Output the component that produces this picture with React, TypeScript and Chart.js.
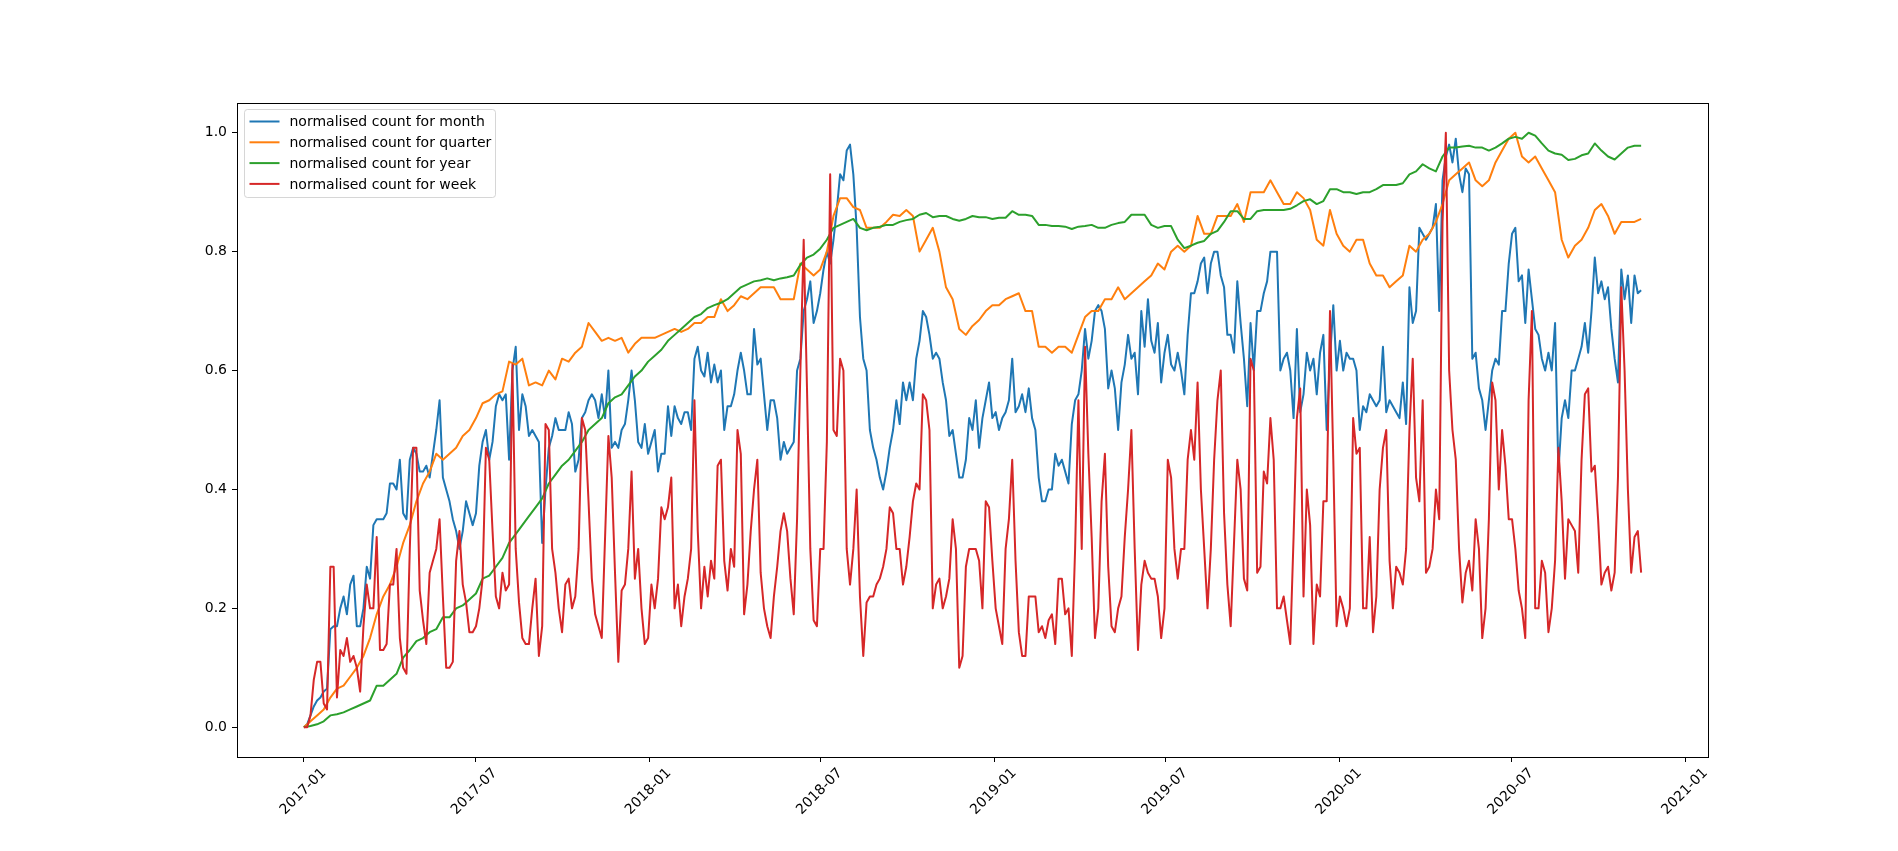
import { useEffect, useRef } from "react";
import { Chart, registerables } from "chart.js";

Chart.register(...registerables);

// x axis is days since 2017-01-01
const xTickDays = [0, 181, 365, 546, 730, 911, 1095, 1277, 1461];
const xTickLabels = [
  "2017-01", "2017-07", "2018-01", "2018-07", "2019-01",
  "2019-07", "2020-01", "2020-07", "2021-01"
];
const yTicks = [0, 0.2, 0.4, 0.6, 0.8, 1.0];

// month / week: read every 7 days (day 0, 7, ...) plus the half-way days (3.5, 10.5, ...)
// quarter / year: read every 14 days (day 0, 14, ...) plus the half-way days (7, 21, ...)
const weeklyStep = 7;
const biweeklyStep = 14;

const monthCounts = [
  0, 0.02, 0.045, 0.06, 0.165, 0.17, 0.22, 0.24, 0.17, 0.2,
  0.25, 0.35, 0.35, 0.41, 0.4, 0.36, 0.45, 0.46, 0.43, 0.42,
  0.5, 0.42, 0.38, 0.33, 0.33, 0.36, 0.36, 0.48, 0.45, 0.54,
  0.55, 0.45, 0.64, 0.56, 0.49,
  0.49, 0.31, 0.47, 0.52, 0.5, 0.53, 0.43, 0.52, 0.55, 0.55,
  0.56, 0.6, 0.48, 0.5, 0.55, 0.55, 0.47, 0.46, 0.5, 0.46,
  0.54, 0.54, 0.51, 0.53, 0.62, 0.6, 0.63, 0.61, 0.6, 0.54,
  0.56, 0.63, 0.56, 0.67,
  0.62, 0.5, 0.55, 0.45, 0.46, 0.48, 0.62, 0.72, 0.68, 0.73,
  0.8, 0.82, 0.93, 0.97, 0.93, 0.69, 0.6, 0.47, 0.42, 0.43,
  0.5, 0.51, 0.55, 0.55, 0.65, 0.69, 0.62, 0.62, 0.55, 0.5,
  0.42, 0.45, 0.5, 0.47, 0.55,
  0.52, 0.5, 0.53, 0.62, 0.54, 0.53, 0.52, 0.42, 0.38, 0.4,
  0.44, 0.43, 0.51, 0.56, 0.67, 0.65, 0.71, 0.67, 0.6, 0.5,
  0.61, 0.62, 0.56, 0.64, 0.65, 0.68, 0.63, 0.61, 0.63, 0.56,
  0.73, 0.75, 0.79, 0.78, 0.8,
  0.74, 0.66, 0.75, 0.62, 0.68, 0.7, 0.73, 0.8, 0.8, 0.62,
  0.6, 0.67, 0.56, 0.6, 0.56, 0.66, 0.62, 0.6, 0.6, 0.62,
  0.6, 0.54, 0.56, 0.54, 0.64, 0.55, 0.53, 0.58, 0.74, 0.7,
  0.83, 0.83, 0.88, 0.92,
  0.98, 0.99, 0.9, 0.93, 0.63, 0.55, 0.55, 0.62, 0.7, 0.78,
  0.84, 0.76, 0.77, 0.67, 0.62, 0.63, 0.68, 0.52, 0.52, 0.6,
  0.64, 0.63, 0.79, 0.75, 0.74, 0.62, 0.77, 0.76, 0.76, 0.735
];
const monthCountsMid = [
  0.005, 0.035, 0.05, 0.065, 0.17, 0.2, 0.19, 0.255, 0.17, 0.27,
  0.34, 0.35, 0.36, 0.41, 0.45, 0.35, 0.47, 0.43, 0.44, 0.46,
  0.55, 0.4, 0.35, 0.3, 0.38, 0.34, 0.44, 0.5, 0.48, 0.56,
  0.56, 0.6, 0.5, 0.54,
  0.5, 0.48, 0.4, 0.49, 0.5, 0.5, 0.51, 0.45, 0.53, 0.56,
  0.52, 0.52, 0.47, 0.47, 0.51, 0.6, 0.48, 0.51, 0.48, 0.43,
  0.46, 0.49, 0.52, 0.53, 0.5, 0.64, 0.59, 0.58, 0.58, 0.5,
  0.54, 0.6, 0.6, 0.56,
  0.61, 0.56, 0.55, 0.52, 0.48, 0.47, 0.6, 0.7, 0.75, 0.7,
  0.77, 0.78, 0.87, 0.92, 0.98, 0.84, 0.62, 0.5, 0.45, 0.4,
  0.47, 0.55, 0.58, 0.58, 0.62, 0.7, 0.66, 0.63, 0.58, 0.49,
  0.46, 0.42, 0.52, 0.55, 0.52,
  0.58, 0.53, 0.52, 0.55, 0.53, 0.56, 0.57, 0.5, 0.38, 0.4,
  0.46, 0.45, 0.41, 0.55, 0.6, 0.62, 0.7, 0.7, 0.57, 0.57,
  0.58, 0.66, 0.63, 0.7, 0.72, 0.63, 0.58, 0.66, 0.6, 0.6,
  0.66, 0.73, 0.78, 0.73, 0.8,
  0.76, 0.66, 0.63, 0.68, 0.54, 0.6, 0.7, 0.75, 0.8, 0.6,
  0.63, 0.52, 0.53, 0.63, 0.62, 0.63, 0.5, 0.71, 0.65, 0.63,
  0.62, 0.5, 0.53, 0.55, 0.55, 0.53, 0.54, 0.52, 0.51, 0.68,
  0.84, 0.82, 0.84, 0.7, 0.96,
  0.95, 0.93, 0.94, 0.62, 0.57, 0.5, 0.6, 0.61, 0.7, 0.83,
  0.75, 0.68, 0.72, 0.66, 0.6, 0.6, 0.43, 0.55, 0.6, 0.62,
  0.68, 0.7, 0.73, 0.72, 0.67, 0.58, 0.72, 0.68, 0.73
];

const weekCounts = [
  0, 0.02, 0.11, 0.04, 0.27, 0.05, 0.12, 0.11, 0.1, 0.17,
  0.2, 0.32, 0.13, 0.24, 0.3, 0.1, 0.3, 0.47, 0.18, 0.26,
  0.3, 0.22, 0.1, 0.28, 0.24, 0.16, 0.17, 0.25, 0.45, 0.22,
  0.26, 0.24, 0.3, 0.15, 0.14,
  0.25, 0.17, 0.5, 0.26, 0.16, 0.25, 0.22, 0.52, 0.38, 0.19,
  0.15, 0.49, 0.26, 0.23, 0.3, 0.25, 0.2, 0.15, 0.2, 0.37,
  0.37, 0.2, 0.17, 0.25, 0.55, 0.2, 0.22, 0.25, 0.45, 0.23,
  0.27, 0.46, 0.24, 0.4,
  0.26, 0.17, 0.22, 0.33, 0.33, 0.19, 0.6, 0.57, 0.18, 0.3,
  0.48, 0.5, 0.62, 0.3, 0.3, 0.22, 0.21, 0.22, 0.25, 0.3,
  0.36, 0.3, 0.27, 0.38, 0.4, 0.55, 0.2, 0.25, 0.22, 0.35,
  0.1, 0.27, 0.3, 0.28, 0.38,
  0.28, 0.17, 0.3, 0.45, 0.16, 0.12, 0.22, 0.16, 0.15, 0.19,
  0.25, 0.19, 0.12, 0.55, 0.64, 0.32, 0.2, 0.46, 0.17, 0.2,
  0.32, 0.5, 0.13, 0.28, 0.25, 0.22, 0.2, 0.42, 0.25, 0.3,
  0.5, 0.58, 0.3, 0.3, 0.55,
  0.36, 0.17, 0.45, 0.25, 0.62, 0.26, 0.43, 0.52, 0.2, 0.22,
  0.14, 0.52, 0.22, 0.34, 0.24, 0.38, 0.7, 0.17, 0.2, 0.2,
  0.46, 0.2, 0.32, 0.22, 0.47, 0.28, 0.27, 0.24, 0.5, 0.42,
  0.55, 0.27, 0.4, 0.85,
  0.6, 0.45, 0.21, 0.28, 0.35, 0.15, 0.35, 0.55, 0.5, 0.35,
  0.3, 0.2, 0.55, 0.2, 0.28, 0.16, 0.28, 0.38, 0.35, 0.33,
  0.45, 0.57, 0.44, 0.24, 0.27, 0.26, 0.74, 0.4, 0.32, 0.26
];
const weekCountsMid = [
  0.0, 0.08, 0.11, 0.03, 0.27, 0.13, 0.15, 0.12, 0.06, 0.24,
  0.2, 0.13, 0.14, 0.24, 0.15, 0.09, 0.47, 0.23, 0.14, 0.28,
  0.35, 0.1, 0.11, 0.33, 0.21, 0.16, 0.2, 0.47, 0.33, 0.2,
  0.23, 0.61, 0.21, 0.14,
  0.2, 0.12, 0.51, 0.3, 0.2, 0.24, 0.2, 0.3, 0.5, 0.25,
  0.17, 0.32, 0.42, 0.11, 0.24, 0.43, 0.3, 0.14, 0.24, 0.25,
  0.35, 0.42, 0.24, 0.22, 0.3, 0.33, 0.27, 0.28, 0.44, 0.28,
  0.3, 0.5, 0.19, 0.33,
  0.45, 0.2, 0.15, 0.27, 0.36, 0.25, 0.35, 0.82, 0.3, 0.17,
  0.3, 0.93, 0.49, 0.6, 0.24, 0.4, 0.12, 0.22, 0.24, 0.27,
  0.37, 0.3, 0.24, 0.32, 0.41, 0.56, 0.5, 0.24, 0.2, 0.25,
  0.3, 0.12, 0.3, 0.3, 0.2,
  0.37, 0.2, 0.14, 0.35, 0.28, 0.12, 0.22, 0.22, 0.17, 0.18,
  0.14, 0.25, 0.2, 0.3, 0.3, 0.46, 0.15, 0.38, 0.27, 0.16,
  0.22, 0.4, 0.3, 0.24, 0.26, 0.25, 0.15, 0.45, 0.3, 0.3,
  0.45, 0.45, 0.4, 0.2, 0.45,
  0.6, 0.24, 0.31, 0.4, 0.23, 0.6, 0.27, 0.41, 0.45, 0.2,
  0.18, 0.32, 0.57, 0.4, 0.14, 0.22, 0.38, 0.45, 0.22, 0.17,
  0.52, 0.47, 0.2, 0.16, 0.4, 0.5, 0.2, 0.26, 0.3, 0.62,
  0.38, 0.26, 0.3, 0.35, 1.0,
  0.5, 0.3, 0.26, 0.23, 0.3, 0.2, 0.58, 0.4, 0.44, 0.35,
  0.23, 0.15, 0.7, 0.2, 0.26, 0.2, 0.47, 0.25, 0.34, 0.26,
  0.56, 0.43, 0.35, 0.26, 0.23, 0.42, 0.6, 0.26, 0.33
];

const quarterCounts = [
  0, 0.02, 0.05, 0.07, 0.1, 0.15, 0.22, 0.27, 0.34, 0.41,
  0.46, 0.46, 0.49, 0.52, 0.55, 0.565, 0.61, 0.575,
  0.575, 0.585, 0.615, 0.64, 0.665, 0.655, 0.655, 0.645, 0.655, 0.66,
  0.67, 0.67, 0.68, 0.69, 0.7, 0.725, 0.73,
  0.74, 0.72, 0.72, 0.77, 0.77, 0.86, 0.89, 0.87, 0.84, 0.85,
  0.86, 0.86, 0.82, 0.8, 0.72, 0.66, 0.685,
  0.71, 0.72, 0.73, 0.7, 0.64, 0.64, 0.63, 0.69, 0.7, 0.72,
  0.72, 0.74, 0.76, 0.77, 0.81, 0.81, 0.83, 0.86,
  0.86, 0.85, 0.9, 0.92, 0.88, 0.9, 0.87, 0.81, 0.83, 0.8,
  0.82, 0.76, 0.74, 0.76, 0.8, 0.83, 0.88,
  0.93, 0.95, 0.91, 0.95, 0.99, 0.96, 0.96, 0.92, 0.82, 0.81,
  0.84, 0.88, 0.83, 0.85, 0.855
];
const quarterCountsMid = [
  0.01, 0.03, 0.065, 0.085, 0.12, 0.19, 0.24, 0.31, 0.38, 0.43,
  0.45, 0.47, 0.5, 0.545, 0.56, 0.615, 0.62,
  0.58, 0.6, 0.62, 0.63, 0.68, 0.65, 0.65, 0.63, 0.655, 0.655,
  0.665, 0.665, 0.68, 0.69, 0.72, 0.71, 0.72,
  0.74, 0.74, 0.72, 0.78, 0.76, 0.8, 0.89, 0.875, 0.84, 0.84,
  0.862, 0.87, 0.8, 0.84, 0.74, 0.67, 0.675,
  0.7, 0.71, 0.725, 0.7, 0.64, 0.63, 0.64, 0.66, 0.7, 0.72,
  0.74, 0.73, 0.75, 0.78, 0.8, 0.8, 0.86, 0.83,
  0.86, 0.88, 0.9, 0.9, 0.9, 0.88, 0.89, 0.82, 0.87, 0.81,
  0.82, 0.78, 0.76, 0.75, 0.81, 0.82, 0.85,
  0.92, 0.94, 0.92, 0.92, 0.97, 1.0, 0.95, 0.94, 0.9, 0.79,
  0.82, 0.87, 0.86, 0.85, 0.85
];

const yearCounts = [
  0, 0.005, 0.02, 0.025, 0.035, 0.045, 0.07, 0.09, 0.13, 0.15,
  0.165, 0.185, 0.205, 0.225, 0.255, 0.285, 0.325, 0.355,
  0.385, 0.425, 0.45, 0.48, 0.51, 0.545, 0.56, 0.59, 0.615, 0.635,
  0.66, 0.68, 0.695, 0.71, 0.72, 0.74, 0.75,
  0.755, 0.755, 0.76, 0.79, 0.805, 0.84, 0.85, 0.84, 0.84, 0.845,
  0.85, 0.855, 0.865, 0.86, 0.855, 0.855, 0.858,
  0.855, 0.857, 0.862, 0.86, 0.845, 0.843, 0.838, 0.843, 0.84, 0.845,
  0.85, 0.862, 0.845, 0.843, 0.82, 0.81, 0.818, 0.835,
  0.868, 0.855, 0.868, 0.87, 0.87, 0.878, 0.888, 0.885, 0.905, 0.9,
  0.9, 0.905, 0.912, 0.915, 0.935, 0.94, 0.96,
  0.975, 0.978, 0.975, 0.975, 0.99, 0.99, 0.995, 0.97, 0.963, 0.956,
  0.965, 0.97, 0.955, 0.975, 0.978
];
const yearCountsMid = [
  0.002, 0.01, 0.022, 0.03, 0.04, 0.07, 0.08, 0.117, 0.145, 0.16,
  0.185, 0.2, 0.215, 0.25, 0.27, 0.31, 0.34,
  0.37, 0.41, 0.44, 0.465, 0.5, 0.52, 0.555, 0.575, 0.6, 0.625,
  0.65, 0.67, 0.69, 0.705, 0.714, 0.73, 0.745,
  0.752, 0.752, 0.757, 0.778, 0.795, 0.82, 0.845, 0.855, 0.836, 0.842,
  0.845, 0.853, 0.862, 0.858, 0.86, 0.852, 0.86,
  0.858, 0.857, 0.868, 0.862, 0.845, 0.843, 0.842, 0.842, 0.845, 0.84,
  0.848, 0.862, 0.862, 0.84, 0.843, 0.806, 0.815, 0.83,
  0.85, 0.868, 0.855, 0.87, 0.87, 0.872, 0.885, 0.88, 0.905, 0.9,
  0.897, 0.9, 0.912, 0.912, 0.93, 0.947, 0.935,
  0.975, 0.977, 0.975, 0.97, 0.982, 0.993, 1.0, 0.982, 0.965, 0.954,
  0.962, 0.982, 0.96, 0.965, 0.978
];

// interleave the on-step readings with the half-step readings
const toPoints = (onStep: number[], halfStep: number[], step: number) => {
  const pts: { x: number; y: number }[] = [];
  onStep.forEach((y, i) => {
    pts.push({ x: i * step, y });
    if (i < halfStep.length) pts.push({ x: i * step + step / 2, y: halfStep[i] });
  });
  return pts;
};

const FONT = "'DejaVu Sans', sans-serif";

// draws the axes frame and a matplotlib-like legend inside the plot
const frameLegend = {
  id: "frameLegend",
  afterDraw(chart: Chart) {
    const { ctx, chartArea } = chart;
    ctx.save();
    ctx.strokeStyle = "#000";
    ctx.lineWidth = 1;
    ctx.strokeRect(
      Math.round(chartArea.left) + 0.5,
      Math.round(chartArea.top) + 0.5,
      Math.round(chartArea.right - chartArea.left),
      Math.round(chartArea.bottom - chartArea.top)
    );

    const lx = Math.round(chartArea.left) + 7.5;
    const ly = Math.round(chartArea.top) + 6.5;
    ctx.beginPath();
    ctx.roundRect(lx, ly, 251, 88, 3);
    ctx.fillStyle = "rgba(255,255,255,0.8)";
    ctx.fill();
    ctx.strokeStyle = "rgba(204,204,204,0.8)";
    ctx.stroke();

    ctx.font = `14px ${FONT}`;
    ctx.textBaseline = "middle";
    chart.data.datasets.forEach((ds, i) => {
      const yy = ly + 12 + i * 20.8;
      ctx.beginPath();
      ctx.strokeStyle = ds.borderColor as string;
      ctx.lineWidth = 2;
      ctx.moveTo(lx + 5, yy);
      ctx.lineTo(lx + 35, yy);
      ctx.stroke();
      ctx.fillStyle = "#000";
      ctx.fillText(ds.label as string, lx + 45, yy + 1);
    });
    ctx.restore();
  }
};

const lineStyle = {
  borderWidth: 2,
  pointRadius: 0,
  fill: false,
  tension: 0,
  borderJoinStyle: "round" as const
};

const App = () => {
  const canvasRef = useRef<HTMLCanvasElement | null>(null);
  const chartRef = useRef<Chart | null>(null);

  useEffect(() => {
    if (!canvasRef.current) return;
    const ctx = canvasRef.current.getContext("2d");
    if (!ctx) return;

    chartRef.current = new Chart(ctx, {
      type: "line",
      data: {
        datasets: [
          {
            label: "normalised count for month",
            data: toPoints(monthCounts, monthCountsMid, weeklyStep),
            borderColor: "#1f77b4",
            order: 3,
            ...lineStyle
          },
          {
            label: "normalised count for quarter",
            data: toPoints(quarterCounts, quarterCountsMid, biweeklyStep),
            borderColor: "#ff7f0e",
            order: 2,
            ...lineStyle
          },
          {
            label: "normalised count for year",
            data: toPoints(yearCounts, yearCountsMid, biweeklyStep),
            borderColor: "#2ca02c",
            order: 1,
            ...lineStyle
          },
          {
            label: "normalised count for week",
            data: toPoints(weekCounts, weekCountsMid, weeklyStep),
            borderColor: "#d62728",
            order: 0,
            ...lineStyle
          }
        ]
      },
      options: {
        animation: false,
        responsive: true,
        maintainAspectRatio: false,
        parsing: false,
        layout: { padding: { top: 103, right: 190, left: 0, bottom: 0 } },
        plugins: {
          legend: { display: false },
          tooltip: { enabled: false }
        },
        scales: {
          x: {
            type: "linear",
            min: -70.7,
            max: 1484.7,
            afterBuildTicks: (scale) => {
              scale.ticks = xTickDays.map((v) => ({ value: v }));
            },
            afterFit: (scale) => {
              scale.height = 94;
            },
            grid: {
              display: true,
              drawOnChartArea: false,
              drawTicks: true,
              tickLength: 5,
              color: "#000"
            },
            border: { display: false },
            ticks: {
              autoSkip: false,
              maxRotation: 45,
              minRotation: 45,
              padding: 3,
              labelOffset: 20,
              color: "#000",
              font: { family: FONT, size: 14 },
              callback: (_v, i) => xTickLabels[i]
            }
          },
          y: {
            min: -0.05,
            max: 1.05,
            afterBuildTicks: (scale) => {
              scale.ticks = yTicks.map((v) => ({ value: v }));
            },
            afterFit: (scale) => {
              scale.width = 237;
            },
            grid: {
              display: true,
              drawOnChartArea: false,
              drawTicks: true,
              tickLength: 5,
              color: "#000"
            },
            border: { display: false },
            ticks: {
              padding: 5,
              color: "#000",
              font: { family: FONT, size: 14 },
              callback: (v) => Number(v).toFixed(1)
            }
          }
        }
      },
      plugins: [frameLegend]
    });

    return () => {
      chartRef.current?.destroy();
    };
  }, []);

  return (
    <div
      style={{
        position: "fixed",
        left: 0,
        top: 0,
        width: 1898,
        height: 851,
        background: "#fff"
      }}
    >
      <canvas ref={canvasRef} />
    </div>
  );
};

export default App;
